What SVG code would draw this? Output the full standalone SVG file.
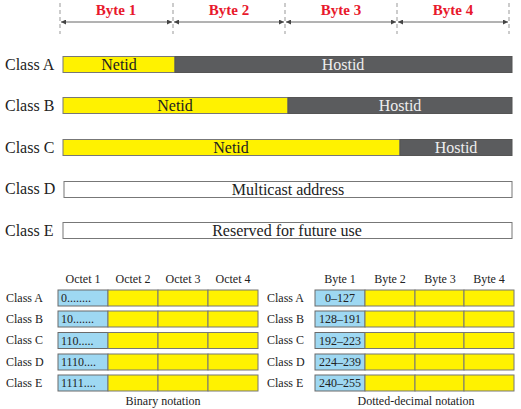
<svg xmlns="http://www.w3.org/2000/svg" width="521" height="409" viewBox="0 0 521 409" font-family="Liberation Serif, DejaVu Serif, serif">
<defs>
<marker id="ah" viewBox="0 0 10 10" refX="10" refY="5" markerWidth="7" markerHeight="5" orient="auto-start-reverse" markerUnits="userSpaceOnUse">
<path d="M0,0 L10,5 L0,10 z" fill="#444"/>
</marker>
<style>
text{font-family:"Liberation Serif","DejaVu Serif",serif}
.t{fill:#222}
.lab{font-size:16px}
.small{font-size:12px}
.byte{font-weight:bold;font-size:15px;fill:#e8192c}
.y{fill:#fff200;stroke:#777;stroke-width:1}
.g{fill:#5b5c5e;stroke:#555;stroke-width:1}
.w{fill:#fff;stroke:#777;stroke-width:1}
.b{fill:#9ed8f2;stroke:#6a6a6a;stroke-width:1}
.dash{stroke:#999;stroke-width:1;stroke-dasharray:4,3}
.arr{stroke:#666;stroke-width:1;fill:none}
.wt{fill:#eee}
</style>
</defs>
<g id="byte-scale">
<line class="dash" x1="60" y1="3" x2="60" y2="34"/>
<line class="dash" x1="173" y1="3" x2="173" y2="34"/>
<line class="dash" x1="285" y1="3" x2="285" y2="34"/>
<line class="dash" x1="397" y1="3" x2="397" y2="34"/>
<line class="dash" x1="509" y1="3" x2="509" y2="34"/>
<text class="byte" x="116" y="15" text-anchor="middle">Byte 1</text>
<text class="byte" x="229" y="15" text-anchor="middle">Byte 2</text>
<text class="byte" x="341" y="15" text-anchor="middle">Byte 3</text>
<text class="byte" x="453" y="15" text-anchor="middle">Byte 4</text>
</g>
<g id="connectors">
<line class="arr" x1="61" y1="22" x2="172" y2="22" marker-start="url(#ah)" marker-end="url(#ah)"/>
<line class="arr" x1="174" y1="22" x2="284" y2="22" marker-start="url(#ah)" marker-end="url(#ah)"/>
<line class="arr" x1="286" y1="22" x2="396" y2="22" marker-start="url(#ah)" marker-end="url(#ah)"/>
<line class="arr" x1="398" y1="22" x2="508" y2="22" marker-start="url(#ah)" marker-end="url(#ah)"/>
</g>
<g id="classA">
<text class="t lab" x="5" y="70">Class A</text>
<rect class="y" x="63" y="56.5" width="112" height="16"/>
<rect class="g" x="175" y="56.5" width="337" height="16"/>
<text class="t lab" x="119" y="70" text-anchor="middle">Netid</text>
<text class="t lab wt" x="343" y="70" text-anchor="middle">Hostid</text>
</g>
<g id="classB">
<text class="t lab" x="5" y="111">Class B</text>
<rect class="y" x="63" y="97.5" width="225" height="16"/>
<rect class="g" x="288" y="97.5" width="224" height="16"/>
<text class="t lab" x="175" y="111" text-anchor="middle">Netid</text>
<text class="t lab wt" x="400" y="111" text-anchor="middle">Hostid</text>
</g>
<g id="classC">
<text class="t lab" x="5" y="153">Class C</text>
<rect class="y" x="63" y="139.5" width="337" height="16"/>
<rect class="g" x="400" y="139.5" width="112" height="16"/>
<text class="t lab" x="231" y="153" text-anchor="middle">Netid</text>
<text class="t lab wt" x="456" y="153" text-anchor="middle">Hostid</text>
</g>
<g id="classD">
<text class="t lab" x="5" y="194">Class D</text>
<rect class="w" x="64" y="181.5" width="448" height="16"/>
<text class="t lab" x="288" y="194.5" text-anchor="middle">Multicast address</text>
</g>
<g id="classE">
<text class="t lab" x="5" y="236">Class E</text>
<rect class="w" x="63" y="222.5" width="449" height="16"/>
<text class="t lab" x="287" y="236" text-anchor="middle">Reserved for future use</text>
</g>
<g id="binary">
<text class="t small" x="83" y="283" text-anchor="middle">Octet 1</text>
<text class="t small" x="133" y="283" text-anchor="middle">Octet 2</text>
<text class="t small" x="183" y="283" text-anchor="middle">Octet 3</text>
<text class="t small" x="233" y="283" text-anchor="middle">Octet 4</text>
<g id="bin-A">
<text class="t small" x="6" y="302">Class A</text>
<rect class="b" x="58" y="290" width="50" height="16"/>
<rect class="y" x="108" y="290" width="50" height="16"/>
<rect class="y" x="158" y="290" width="50" height="16"/>
<rect class="y" x="208" y="290" width="50" height="16"/>
<text class="t small" x="61" y="302">0........</text>
</g>
<g id="bin-B">
<text class="t small" x="6" y="323">Class B</text>
<rect class="b" x="58" y="311" width="50" height="16"/>
<rect class="y" x="108" y="311" width="50" height="16"/>
<rect class="y" x="158" y="311" width="50" height="16"/>
<rect class="y" x="208" y="311" width="50" height="16"/>
<text class="t small" x="61" y="323">10.......</text>
</g>
<g id="bin-C">
<text class="t small" x="6" y="344">Class C</text>
<rect class="b" x="58" y="332.5" width="50" height="16"/>
<rect class="y" x="108" y="332.5" width="50" height="16"/>
<rect class="y" x="158" y="332.5" width="50" height="16"/>
<rect class="y" x="208" y="332.5" width="50" height="16"/>
<text class="t small" x="61" y="344.5">110.....</text>
</g>
<g id="bin-D">
<text class="t small" x="6" y="366">Class D</text>
<rect class="b" x="58" y="354" width="50" height="16"/>
<rect class="y" x="108" y="354" width="50" height="16"/>
<rect class="y" x="158" y="354" width="50" height="16"/>
<rect class="y" x="208" y="354" width="50" height="16"/>
<text class="t small" x="61" y="366">1110....</text>
</g>
<g id="bin-E">
<text class="t small" x="6" y="387">Class E</text>
<rect class="b" x="58" y="375" width="50" height="16"/>
<rect class="y" x="108" y="375" width="50" height="16"/>
<rect class="y" x="158" y="375" width="50" height="16"/>
<rect class="y" x="208" y="375" width="50" height="16"/>
<text class="t small" x="61" y="387">1111....</text>
</g>
<text class="t small" x="163" y="405" text-anchor="middle">Binary notation</text>
</g>
<g id="decimal">
<text class="t small" x="340" y="283" text-anchor="middle">Byte 1</text>
<text class="t small" x="390" y="283" text-anchor="middle">Byte 2</text>
<text class="t small" x="440" y="283" text-anchor="middle">Byte 3</text>
<text class="t small" x="489" y="283" text-anchor="middle">Byte 4</text>
<g id="dec-A">
<text class="t small" x="267" y="302">Class A</text>
<rect class="b" x="315" y="290" width="50" height="16"/>
<rect class="y" x="365" y="290" width="50" height="16"/>
<rect class="y" x="415" y="290" width="49" height="16"/>
<rect class="y" x="464" y="290" width="50" height="16"/>
<text class="t small" x="340" y="302" text-anchor="middle">0–127</text>
</g>
<g id="dec-B">
<text class="t small" x="267" y="323">Class B</text>
<rect class="b" x="315" y="311" width="50" height="16"/>
<rect class="y" x="365" y="311" width="50" height="16"/>
<rect class="y" x="415" y="311" width="49" height="16"/>
<rect class="y" x="464" y="311" width="50" height="16"/>
<text class="t small" x="340" y="323" text-anchor="middle">128–191</text>
</g>
<g id="dec-C">
<text class="t small" x="267" y="344">Class C</text>
<rect class="b" x="315" y="332.5" width="50" height="16"/>
<rect class="y" x="365" y="332.5" width="50" height="16"/>
<rect class="y" x="415" y="332.5" width="49" height="16"/>
<rect class="y" x="464" y="332.5" width="50" height="16"/>
<text class="t small" x="340" y="344.5" text-anchor="middle">192–223</text>
</g>
<g id="dec-D">
<text class="t small" x="267" y="366">Class D</text>
<rect class="b" x="315" y="354" width="50" height="16"/>
<rect class="y" x="365" y="354" width="50" height="16"/>
<rect class="y" x="415" y="354" width="49" height="16"/>
<rect class="y" x="464" y="354" width="50" height="16"/>
<text class="t small" x="340" y="366" text-anchor="middle">224–239</text>
</g>
<g id="dec-E">
<text class="t small" x="267" y="387">Class E</text>
<rect class="b" x="315" y="375" width="50" height="16"/>
<rect class="y" x="365" y="375" width="50" height="16"/>
<rect class="y" x="415" y="375" width="49" height="16"/>
<rect class="y" x="464" y="375" width="50" height="16"/>
<text class="t small" x="340" y="387" text-anchor="middle">240–255</text>
</g>
<text class="t small" x="416" y="405" text-anchor="middle">Dotted-decimal notation</text>
</g>
</svg>
